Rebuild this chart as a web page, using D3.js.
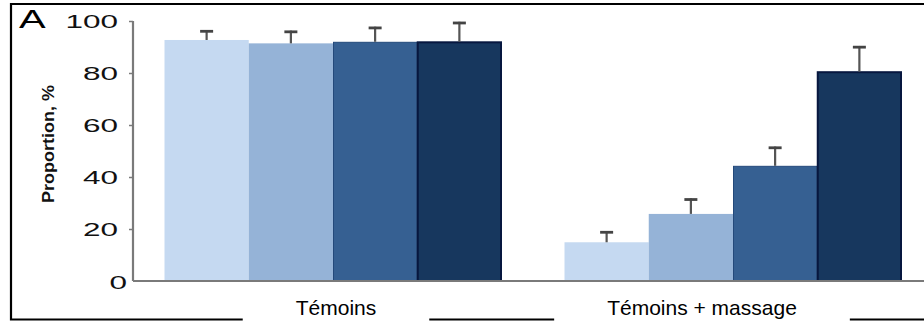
<!DOCTYPE html>
<html>
<head>
<meta charset="utf-8">
<script src="https://cdn.jsdelivr.net/npm/d3@7"></script>
<style>
  html, body { margin: 0; padding: 0; background: #fff; }
  svg { display: block; }
</style>
</head>
<body>
<svg id="chart" width="924" height="322"></svg>
<script>
// ---- data ----
const groups = ["Témoins", "Témoins + massage"];
const seriesNames = ["s1", "s2", "s3", "s4"];
const seriesColors = ["#c5d9f1", "#95b3d7", "#366092", "#17375e"];
const seriesStrokes = ["none", "none", "#24497a", "#07173f"];
const valuesTemoins = [92.7, 91.4, 92.0, 92.0];
const errorsTemoins = [3.8, 4.9, 5.8, 7.7];
const valuesMassage = [14.9, 25.8, 44.3, 80.5];
const errorsMassage = [4.3, 6.0, 7.4, 9.9];
const yTicks = [0, 20, 40, 60, 80, 100];
const yLabel = "Proportion, %";
const panelLetter = "A";

const data = groups.map((g, gi) => ({
  group: g,
  bars: seriesNames.map((s, si) => ({
    series: s, si,
    value: gi === 0 ? valuesTemoins[si] : valuesMassage[si],
    err: gi === 0 ? errorsTemoins[si] : errorsMassage[si]
  }))
}));

// ---- layout ----
const svg = d3.select("#chart");
const axisX = 133, yTop = 21, yBottom = 281, rightEnd = 933;
const labelOffsets = [3, -31];

const x0 = d3.scaleBand().domain(groups).range([axisX, rightEnd])
  .paddingInner(0.1575).paddingOuter(0.07875);
const x1 = d3.scaleBand().domain(seriesNames).range([0, x0.bandwidth()]).padding(0);
const y = d3.scaleLinear().domain([0, 100]).range([yBottom, yTop]);

// outer frame (top, left, bottom)
svg.append("path")
  .attr("d", `M924,4 H11 V319.5 H924`)
  .attr("fill", "none").attr("stroke", "#000").attr("stroke-width", 2.2);

// bars
const g = svg.append("g");
const grp = g.selectAll("g.grp").data(data).join("g")
  .attr("transform", d => `translate(${x0(d.group)},0)`);
grp.selectAll("rect").data(d => d.bars).join("rect")
  .attr("x", d => x1(d.series) + (d.si >= 2 ? 0.5 : 0))
  .attr("y", d => y(d.value) + (d.si >= 2 ? 0.5 : 0))
  .attr("width", d => x1.bandwidth() - (d.si >= 2 ? 1 : 0))
  .attr("height", d => y(0) - y(d.value) - (d.si >= 2 ? 0.5 : 0))
  .attr("fill", d => seriesColors[d.si])
  .attr("stroke", d => seriesStrokes[d.si])
  .attr("stroke-width", d => d.si === 3 ? 2 : 1);

// error bars
const eb = grp.selectAll("g.eb").data(d => d.bars).join("g").attr("class", "eb");
eb.append("line")
  .attr("x1", d => x1(d.series) + x1.bandwidth() / 2)
  .attr("x2", d => x1(d.series) + x1.bandwidth() / 2)
  .attr("y1", d => y(d.value))
  .attr("y2", d => y(d.value + d.err))
  .attr("stroke", "#555").attr("stroke-width", 2.2);
eb.append("line")
  .attr("x1", d => x1(d.series) + x1.bandwidth() / 2 - 6.5)
  .attr("x2", d => x1(d.series) + x1.bandwidth() / 2 + 6.5)
  .attr("y1", d => y(d.value + d.err) + 1.2)
  .attr("y2", d => y(d.value + d.err) + 1.2)
  .attr("stroke", "#444").attr("stroke-width", 2.8);

// baseline (x axis)
svg.append("line")
  .attr("x1", axisX).attr("x2", 924)
  .attr("y1", y(0)).attr("y2", y(0))
  .attr("stroke", "#7a7a7a").attr("stroke-width", 2);

// y axis
const yAxis = d3.axisLeft(y).tickValues(yTicks).tickSize(4).tickFormat(d3.format("d"));
const ya = svg.append("g").attr("transform", `translate(${axisX},0)`).call(yAxis);
ya.select(".domain").attr("stroke", "#7a7a7a").attr("stroke-width", 2.2)
  .attr("d", `M0,${yTop}V${yBottom}`);
ya.selectAll(".tick line").attr("stroke", "#7a7a7a").attr("stroke-width", 1.5)
  .attr("display", d => d === 0 ? "none" : null);
ya.selectAll(".tick text").remove();
ya.selectAll(".tick").append("text")
  .attr("text-anchor", "end")
  .attr("dominant-baseline", "central")
  .attr("transform", d => `translate(${d === 0 ? -6 : -15},${d === 0 ? 1 : 0}) scale(1.75,1)`)
  .attr("font-family", "Liberation Sans, Arial, sans-serif")
  .attr("font-size", 18)
  .attr("fill", "#111")
  .text(d => d);

// y label
svg.append("text")
  .attr("transform", "translate(54,144) rotate(-90)")
  .attr("x", -59)
  .attr("textLength", 118)
  .attr("lengthAdjust", "spacingAndGlyphs")
  .attr("font-family", "Liberation Sans, Arial, sans-serif")
  .attr("font-weight", "bold")
  .attr("font-size", 17)
  .attr("fill", "#111")
  .text(yLabel);

// panel letter
svg.append("text")
  .attr("transform", "translate(19,28) scale(1.6,1)")
  .attr("font-family", "Liberation Sans, Arial, sans-serif")
  .attr("font-size", 25)
  .attr("fill", "#000")
  .text(panelLetter);

// group labels with gaps in the bottom frame line
groups.forEach((name, i) => {
  const cx = x0(name) + x0.bandwidth() / 2 + labelOffsets[i];
  const t = svg.append("text")
    .attr("x", cx).attr("y", 315)
    .attr("text-anchor", "middle")
    .attr("font-family", "Liberation Sans, Arial, sans-serif")
    .attr("font-size", 21)
    .attr("fill", "#000")
    .text(name);
  const w = t.node().getComputedTextLength() + 106;
  svg.insert("rect", () => t.node())
    .attr("x", cx - w / 2).attr("y", 314).attr("width", w).attr("height", 8)
    .attr("fill", "#fff");
});
</script>
</body>
</html>
